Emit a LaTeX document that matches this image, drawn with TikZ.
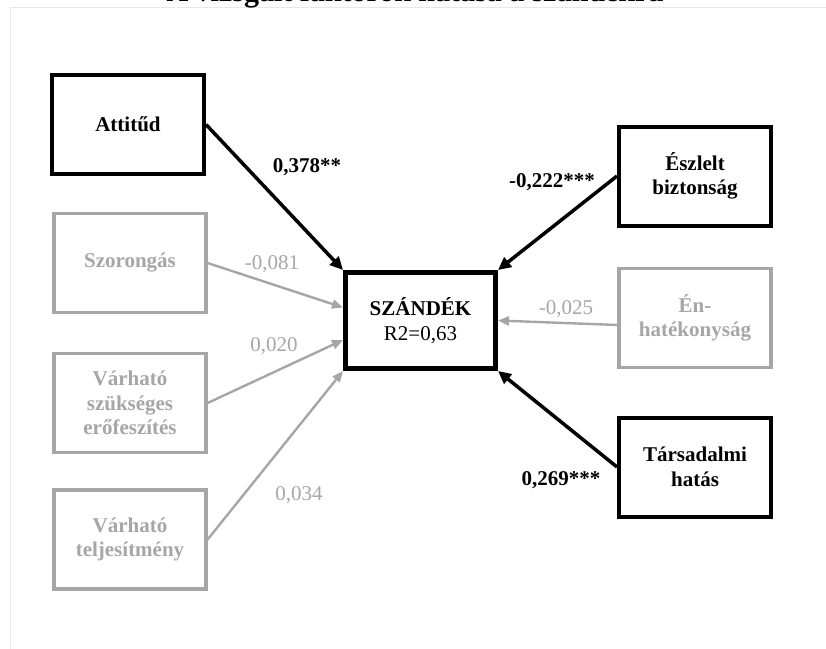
\documentclass[tikz,border=0pt]{standalone}
\usepackage{fontspec}
\setmainfont{Liberation Serif}
\usetikzlibrary{arrows.meta}
\definecolor{lg}{HTML}{A6A6A6}
\definecolor{fr}{HTML}{E8E8E8}
\begin{document}
\begin{tikzpicture}[x=1pt,y=-1pt,
 box/.style={draw, line width=4pt, minimum width=152pt, minimum height=99pt, inner sep=0pt, align=center, font=\fontsize{21}{24.5}\selectfont\bfseries},
 gbox/.style={box, draw=lg, text=lg, line width=3.2pt},
 mainbox/.style={box, line width=5pt, minimum width=150pt, minimum height=96pt},
 barr/.style={line width=3.5pt, -{Triangle[length=13pt,width=12pt]}},
 garr/.style={line width=2.4pt, color=lg, -{Triangle[length=11pt,width=9pt]}},
 blab/.style={anchor=base, font=\fontsize{21}{24.5}\selectfont\bfseries},
 glab/.style={anchor=base, text=lg, font=\fontsize{21}{24.5}\selectfont},
]
\useasboundingbox (0,0) rectangle (826,648);
\draw[fr, line width=1pt] (10.7,7) rectangle (860,680);
\node[anchor=base, font=\fontsize{30}{36}\selectfont\bfseries] (title) at (415,1.5) {A vizsgált faktorok hatása a szándékra};

\node[box] (att) at (128,124.5) {Attitűd};
\node[gbox] (szor) at (130,263) {Szorongás};
\node[gbox] (eref) at (130,403) {Várható\\szükséges\\erőfeszítés};
\node[gbox] (telj) at (130,539.5) {Várható\\teljesítmény};
\node[mainbox] (sz) at (420.5,320.5) {SZÁNDÉK\\{\mdseries R2=0,63}};
\node[box] (esz) at (695,176) {Észlelt\\biztonság};
\node[gbox] (en) at (695,318) {Én-\\hatékonyság};
\node[box] (tar) at (695,467) {Társadalmi\\hatás};

\draw[barr] (att.east) -- (sz.north west);
\draw[garr] (szor.east) -- ([yshift=13pt]sz.west);
\draw[garr] (eref.east) -- ([yshift=-19.5pt]sz.west);
\draw[garr] (telj.east) -- (sz.south west);
\draw[barr] (esz.west) -- (sz.north east);
\draw[garr] ([yshift=-7pt]en.west) -- (sz.east);
\draw[barr] (tar.west) -- (sz.south east);

\node[blab] (l1) at (307,172) {0,378**};
\node[glab] (l2) at (272,269) {-0,081};
\node[glab] (l3) at (274,351) {0,020};
\node[glab] (l4) at (299,500) {0,034};
\node[blab] (l5) at (552,187) {-0,222***};
\node[glab] (l6) at (566,314) {-0,025};
\node[blab] (l7) at (561,485) {0,269***};
\end{tikzpicture}
\end{document}
